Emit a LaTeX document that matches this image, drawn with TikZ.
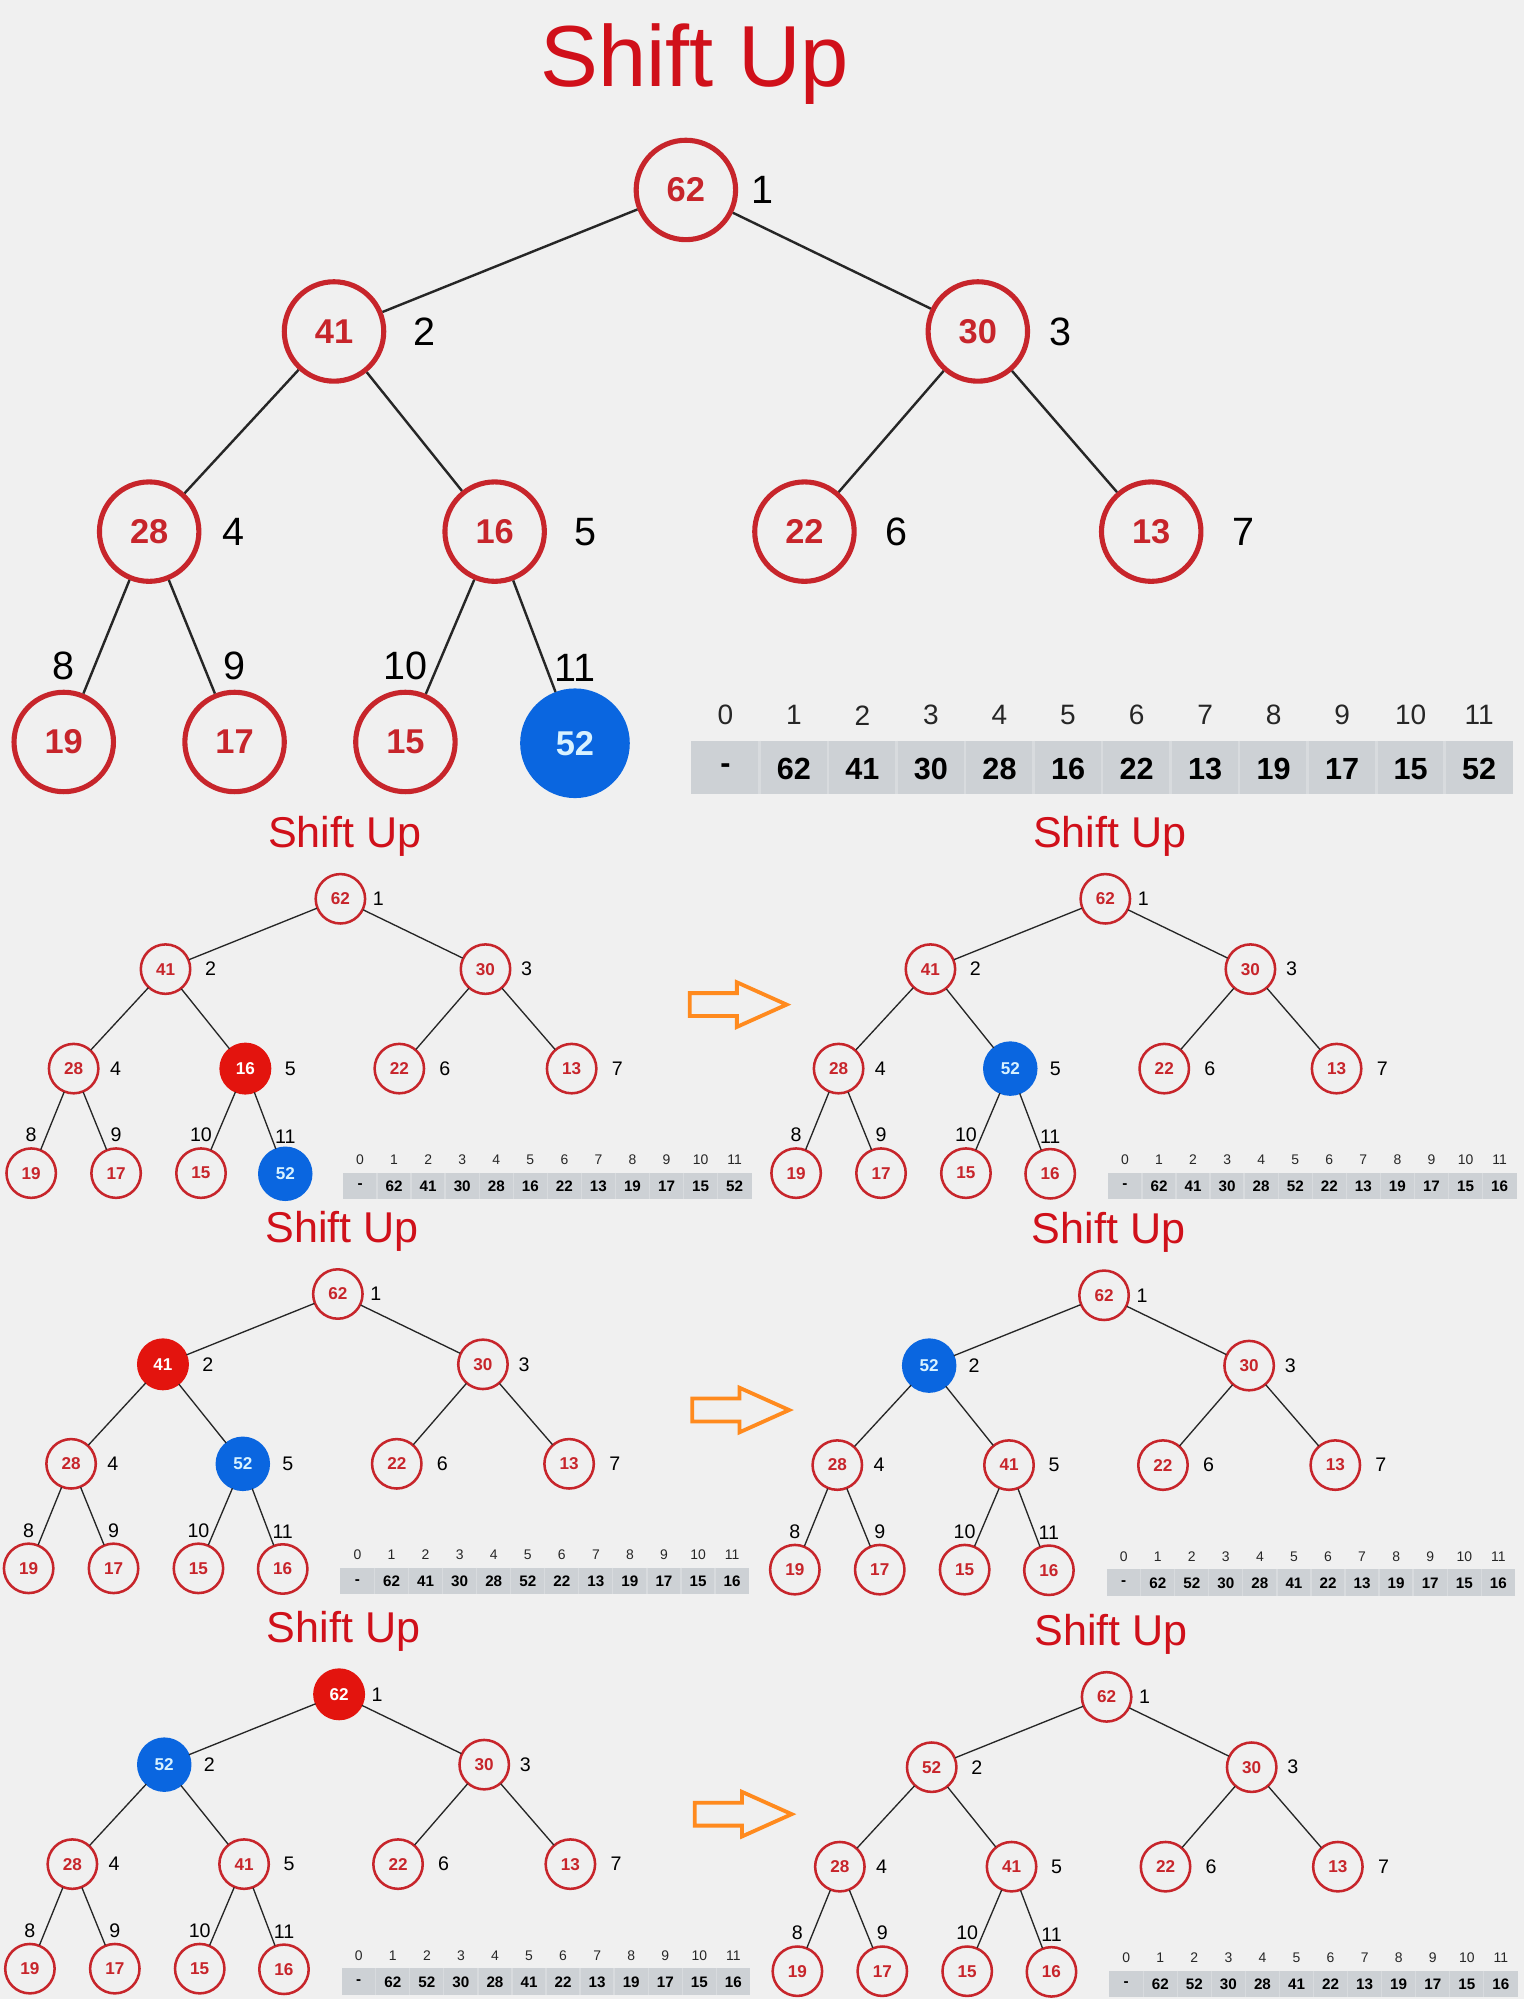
\documentclass[tikz,border=0pt]{standalone}
\usepackage{fontspec}
\setmainfont{Liberation Sans}
\definecolor{bgc}{HTML}{F0F0F0}
\definecolor{nodered}{HTML}{C7252B}
\definecolor{titlered}{HTML}{D0101A}
\definecolor{fillred}{HTML}{E3140E}
\definecolor{fillblue}{HTML}{0A66E0}
\definecolor{bluetext}{HTML}{D8F2FF}
\definecolor{bandc}{HTML}{CDD1D5}
\definecolor{sepc}{HTML}{D8DBDE}
\definecolor{arrowc}{HTML}{FF8A1E}
\tikzset{
  titlestyle/.style={text=titlered, font=\fontsize{34}{36}\selectfont, inner sep=0pt},
  tnode/.style={circle, draw=nodered, fill=bgc, line width=\sc*2pt, minimum size=39pt, inner sep=0pt,
     text=nodered, font=\bfseries\fontsize{13.5}{14}\selectfont},
  rnode/.style={tnode, draw=fillred, fill=fillred, text=white},
  bnode/.style={tnode, draw=fillblue, fill=fillblue, text=bluetext, minimum size=41pt},
  idxlab/.style={text=black, font=\fontsize{15.5}{16}\selectfont, inner sep=0pt},
  hdrlab/.style={text=black!85, font=\fontsize{11}{12}\selectfont, inner sep=0pt},
  vallab/.style={text=black, font=\bfseries\fontsize{12}{13}\selectfont, inner sep=0pt},
  edge/.style={draw=black!85, line width=\sc*0.85pt+0.1pt},
  blockarrow/.style={draw=arrowc, line width=1.5pt, line join=miter}
}
\def\PX{{0,-276,229,-421,-150,93,365,-488,-354,-220,-87}}
\def\PY{{0,111,111,268,268,268,268,433,433,433,434}}
\def\LX{{60,71,65,66,71,72,72,0,0,0,0}}
\def\LY{{0,0,0,0,0,0,0,-60,-60,-60,-59}}
\newcommand\heappanel[5]{%
  \begin{scope}[shift={#2}, scale=#3, transform shape]
    \pgfmathsetmacro\sc{#3}
    \node[titlestyle, anchor=base] (#1-title) at (7,-81.4) {Shift Up};
    \fill[bandc] (4,432) rectangle (649,474);
    \foreach \k in {1,...,11} \draw[sepc, line width=\sc*1pt] ({4+53.75*\k},432) -- ({4+53.75*\k},474);
    \foreach \t [count=\k from 0] in {#5} {
      \node[hdrlab] (#1-h\k) at ({31+53.75*\k},412) {\k};
      \node[vallab] (#1-v\k) at ({31+53.75*\k},454) {\t};
    }
    \foreach \v/\st [count=\i] in {#4} {
      \pgfmathsetmacro\px{\PX[\i-1]}
      \pgfmathsetmacro\py{\PY[\i-1]}
      \pgfmathsetmacro\lx{\LX[\i-1]}
      \pgfmathsetmacro\ly{\LY[\i-1]}
      \node[\st] (#1-n\i) at (\px,\py) {\v};
      \node[idxlab] (#1-l\i) at ({\px+\lx},{\py+\ly}) {\i};
    }
    \foreach \a/\b in {1/2,1/3,2/4,2/5,3/6,3/7,4/8,4/9,5/10,5/11}
      \draw[edge] (#1-n\a) -- (#1-n\b);
  \end{scope}}
\newcommand\orangearrow[3]{% name, left x, centre y
  \coordinate (#1) at (#2,#3);
  \draw[blockarrow] (#1) ++(0,-9) -- ++(37,0) -- ++(0,-8.5) -- ++(39,17.5) -- ++(-39,17.5) -- ++(0,-8.5) -- ++(-37,0) -- cycle;}
\begin{document}
\begin{tikzpicture}[x=0.5pt, y=-0.5pt]
  \fill[bgc] (0,0) rectangle (1195.4,1568);
  \useasboundingbox (0,0) rectangle (1195.4,1568);
  \heappanel{A}{(538,149)}{1}{62/tnode,41/tnode,30/tnode,28/tnode,16/tnode,22/tnode,13/tnode,19/tnode,17/tnode,15/tnode,52/bnode}{-,62,41,30,28,16,22,13,19,17,15,52}
  \heappanel{B}{(267,705)}{0.497}{62/tnode,41/tnode,30/tnode,28/tnode,16/rnode,22/tnode,13/tnode,19/tnode,17/tnode,15/tnode,52/bnode}{-,62,41,30,28,16,22,13,19,17,15,52}
  \heappanel{C}{(867,705)}{0.497}{62/tnode,41/tnode,30/tnode,28/tnode,52/bnode,22/tnode,13/tnode,19/tnode,17/tnode,15/tnode,16/tnode}{-,62,41,30,28,52,22,13,19,17,15,16}
  \heappanel{D}{(265,1015)}{0.497}{62/tnode,41/rnode,30/tnode,28/tnode,52/bnode,22/tnode,13/tnode,19/tnode,17/tnode,15/tnode,16/tnode}{-,62,41,30,28,52,22,13,19,17,15,16}
  \heappanel{E}{(866,1016)}{0.497}{62/tnode,52/bnode,30/tnode,28/tnode,41/tnode,22/tnode,13/tnode,19/tnode,17/tnode,15/tnode,16/tnode}{-,62,52,30,28,41,22,13,19,17,15,16}
  \heappanel{F}{(266,1329)}{0.497}{62/rnode,52/bnode,30/tnode,28/tnode,41/tnode,22/tnode,13/tnode,19/tnode,17/tnode,15/tnode,16/tnode}{-,62,52,30,28,41,22,13,19,17,15,16}
  \heappanel{G}{(868,1331)}{0.497}{62/tnode,52/tnode,30/tnode,28/tnode,41/tnode,22/tnode,13/tnode,19/tnode,17/tnode,15/tnode,16/tnode}{-,62,52,30,28,41,22,13,19,17,15,16}
  \orangearrow{arr1}{541}{788}
  \orangearrow{arr2}{543}{1106}
  \orangearrow{arr3}{545}{1423}
\end{tikzpicture}
\end{document}
